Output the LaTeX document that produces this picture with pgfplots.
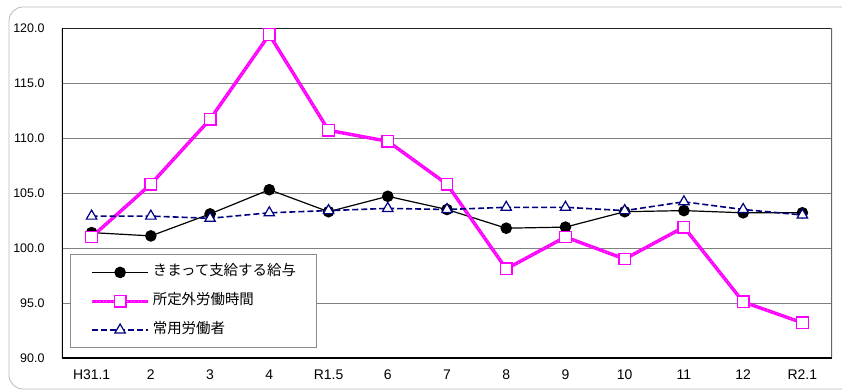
\documentclass[border=0pt]{standalone}
\usepackage{pgfplots}
\usepackage{pgfplotstable}
\pgfplotsset{compat=1.18}
\usepackage{fontspec}
\setmainfont{Liberation Sans}
\newfontfamily\jp{Noto Sans CJK JP}
\definecolor{pinkline}{HTML}{FF00FF}
\definecolor{navyline}{HTML}{000080}
\definecolor{gridgray}{HTML}{808080}

% index values by month (H31.1 = 0 ... R2.1 = 12)
\pgfplotstableread{
x  kyuyo  shotei  joyo
0  101.4  101.0   102.9
1  101.1  105.8   102.9
2  103.1  111.7   102.7
3  105.3  119.4   103.2
4  103.3  110.7   103.4
5  104.7  109.7   103.6
6  103.5  105.8   103.5
7  101.8   98.1   103.7
8  101.9  101.0   103.7
9  103.3   99.0   103.4
10 103.4  101.9   104.2
11 103.2   95.1   103.5
12 103.2   93.2   103.0
}\datatable

\begin{document}
\begin{tikzpicture}
\path[use as bounding box] (-62bp,-32bp) rectangle (780bp,358bp);
\draw[gray!55, line width=0.8bp, rounded corners=14bp] (-53bp,-31bp) rectangle (800bp,351bp);
\begin{axis}[
  at={(0,0)}, anchor=south west,
  scale only axis, width=770bp, height=330bp,
  xmin=-0.5, xmax=12.5, ymin=90, ymax=120,
  xtick={0,...,12},
  xticklabels={H31.1,2,3,4,R1.5,6,7,8,9,10,11,12,R2.1},
  ytick={90,95,...,120},
  /pgf/number format/assume math mode=true,
  yticklabel style={/pgf/number format/.cd, fixed, fixed zerofill, precision=1, /tikz/.cd,
    font=\fontsize{12.5}{14}\selectfont, xshift=-14bp},
  xticklabel style={font=\fontsize{14}{16}\selectfont, yshift=-8bp},
  major tick length=0pt,
  tick style={draw=none},
  axis line style={draw=none},
  ymajorgrids,
  major grid style={gridgray, line width=0.8bp},
  legend image code/.code={
    \draw[mark repeat=2, mark phase=2, #1] plot coordinates {(0bp,0bp) (28bp,0bp) (56bp,0bp)};
  },
  legend cell align=left,
  legend style={
    at={(0.0104,0.3142)}, anchor=north west,
    draw=gray!90, fill=white, line width=0.8bp,
    font=\fontsize{14.5}{17}\selectfont,
    inner xsep=20bp, inner ysep=10.7bp, row sep=14.8bp,
    nodes={inner sep=0pt, text height=10.5bp, text depth=3.5bp},
    /tikz/every odd column/.append style={column sep=3bp},
  },
]
\addplot[black, line width=1.2bp, mark=*, mark size=5.2bp,
  mark options={solid, fill=black}]
  table[x=x, y=kyuyo] {\datatable};
\addlegendentry{\jp きまって支給する給与}

\addplot[pinkline, line width=3.4bp, mark=square*, mark size=5.8bp,
  mark options={solid, fill=white, draw=pinkline, line width=1.3bp},
  postaction={draw, pinkline!55!white, line width=0.7bp, dash pattern=on 1bp off 2.5bp}]
  table[x=x, y=shotei] {\datatable};
\addlegendentry{\jp 所定外労働時間}

\addplot[navyline, line width=1.6bp, dash pattern=on 6bp off 3bp,
  mark=triangle*, mark size=6bp,
  mark options={solid, fill=white, draw=navyline, line width=1.2bp}]
  table[x=x, y=joyo] {\datatable};
\addlegendentry{\jp 常用労働者}

% plot frame
\draw[black!85, line width=1bp] (rel axis cs:0,1) -- (rel axis cs:1,1);
\draw[black!60, line width=1.4bp] (rel axis cs:1,0) -- (rel axis cs:1,1);
\draw[black, line width=1.6bp] (rel axis cs:0,0) -- (rel axis cs:0,1);
\draw[black, line width=2.4bp] (rel axis cs:0,0) -- (rel axis cs:1,0);
\end{axis}
\end{tikzpicture}
\end{document}
